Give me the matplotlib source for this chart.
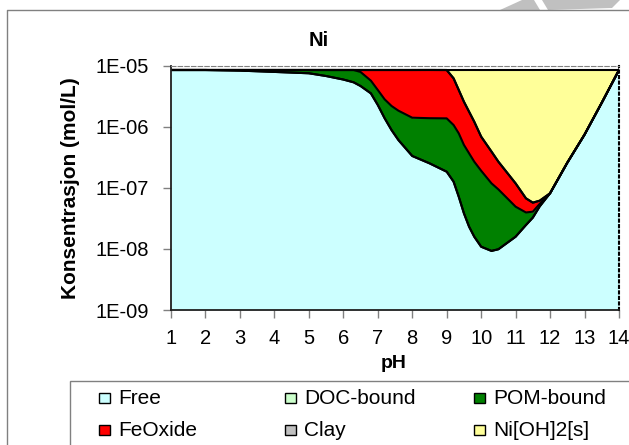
#!/usr/bin/env python3
'''
Ni speciation vs pH, stacked areas on a log axis.
'''

import matplotlib.pyplot as plt
from matplotlib.patches import Rectangle, Polygon
from matplotlib.lines import Line2D
import numpy as np

plt.rcParams['font.family'] = ['Liberation Sans', 'DejaVu Sans']

# values (mol/L)
ph = [1, 2, 3, 4, 5, 5.5, 6, 6.3, 6.5, 6.8, 7, 7.2, 7.4, 7.6, 8, 8.5, 9, 9.2,
      9.35, 9.5, 9.65, 9.8, 10, 10.3, 10.5, 11, 11.3, 11.5, 11.7, 12, 12.5, 13,
      13.5, 14]
free = [8.6e-6, 8.6e-6, 8.4e-6, 8.0e-6, 7.6e-6, 6.85e-6, 6.0e-6, 5.4e-6, 4.7e-6,
        3.56e-6, 2.3e-6, 1.39e-6, 8.9e-7, 6.1e-7, 3.35e-7, 2.54e-7, 1.85e-7,
        1.27e-7, 7.2e-8, 3.85e-8, 2.32e-8, 1.59e-8, 1.09e-8, 9.3e-9, 9.9e-9,
        1.59e-8, 2.47e-8, 3.27e-8, 5.0e-8, 8.2e-8, 2.6e-7, 7.5e-7, 2.5e-6, 8.6e-6]
doc = [0.0] * len(ph)
pom = [0, 0, 2e-7, 6e-7, 1.0e-6, 1.75e-6, 2.6e-6, 3.2e-6, 3.28e-6, 2.19e-6,
       1.75e-6, 1.45e-6, 1.32e-6, 1.24e-6, 1.085e-6, 1.14e-6, 1.2e-6, 9.5e-7,
       7.15e-7, 4.7e-7, 3.47e-7, 2.54e-7, 1.81e-7, 1.1e-7, 8.5e-8, 3.35e-8,
       1.5e-8, 8.2e-9, 5e-9, 0, 0, 0, 0, 0]
feox = [0, 0, 0, 0, 0, 0, 0, 0, 6.2e-7, 2.85e-6, 4.55e-6, 5.76e-6, 6.39e-6,
        6.75e-6, 7.18e-6, 7.21e-6, 7.21e-6, 5.2e-6, 3.26e-6, 2.09e-6, 1.41e-6,
        9.5e-7, 5.03e-7, 2.76e-7, 1.75e-7, 6.96e-8, 2.8e-8, 1.66e-8, 7e-9,
        0, 0, 0, 0, 0]
clay = [0.0] * len(ph)
nioh = [0, 0, 0, 0, 0, 0, 0, 0, 0, 0, 0, 0, 0, 0, 0, 0, 0, 2.32e-6, 4.55e-6,
        6.0e-6, 6.82e-6, 7.38e-6, 7.9e-6, 8.2e-6, 8.33e-6, 8.48e-6, 8.53e-6,
        8.54e-6, 8.54e-6, 8.52e-6, 8.34e-6, 7.85e-6, 6.1e-6, 0]

labels = ['Free', 'DOC-bound', 'POM-bound', 'FeOxide', 'Clay', 'Ni[OH]2[s]']
colors = ['#ccffff', '#ccffcc', '#008000', '#ff0000', '#c0c0c0', '#ffff99']
yticks = [1e-9, 1e-8, 1e-7, 1e-6, 1e-5]
ytlabels = ['1E-09', '1E-08', '1E-07', '1E-06', '1E-05']

W, H = 629, 445
fig = plt.figure(figsize=(W / 100, H / 100), dpi=100)

def fx(px):
    return px / W

def fy(py):
    return 1 - py / H

ax = fig.add_axes([fx(171), fy(310), fx(619) - fx(171), fy(66) - fy(310)])
ax.set_yscale('log')

stack = np.cumsum(np.array([free, doc, pom, feox, clay, nioh]), axis=0)
prev = np.full(len(ph), 1e-9)
for lev, c in zip(stack, colors):
    ax.fill_between(ph, prev, lev, color=c, lw=0)
    prev = lev
for lev in stack:
    ax.plot(ph, lev, color='k', lw=1.5, solid_joinstyle='round')

ax.set_xlim(1, 14)
ax.set_ylim(1e-9, 1e-5)
ax.set_xticks(range(1, 15))
ax.set_yticks(yticks)
ax.set_yticklabels(ytlabels)
ax.minorticks_off()
ax.tick_params(axis='both', labelsize=14.5, length=6, width=1, color='#808080')
ax.tick_params(axis='x', pad=8)
ax.tick_params(axis='y', pad=10)

ax.spines['left'].set_color('#202020')
ax.spines['bottom'].set_color('#202020')
ax.spines['left'].set_linewidth(1.3)
ax.spines['bottom'].set_linewidth(1.3)
ax.spines['top'].set_color('#808080')
ax.spines['top'].set_linestyle((0, (4, 2)))
ax.spines['right'].set_color('k')
ax.spines['right'].set_linestyle(':')
ax.spines['right'].set_linewidth(1.5)

fig.text(fx(319), fy(41), 'Ni', fontsize=14.5, fontweight='bold',
         ha='center', va='center')
fig.text(fx(394), fy(368), 'pH', fontsize=14, fontweight='bold',
         ha='center', va='baseline')
fig.text(fx(70), fy(188), 'Konsentrasjon (mol/L)', fontsize=15,
         fontweight='bold', rotation=90, ha='center', va='center')

# outer chart frame and legend box
fig.add_artist(Line2D([fx(7), fx(7), fx(640)], [fy(450), fy(10), fy(10)],
                      color='#808080', lw=1))
fig.add_artist(Rectangle((fx(70), fy(460)), fx(640) - fx(70), fy(381) - fy(460),
                         transform=fig.transFigure, fill=False,
                         edgecolor='#808080', lw=1))

# legend entries, three columns and two rows
col_x = [99, 285, 474]
row_y = [398, 430]
for i, (lab, c) in enumerate(zip(labels, colors)):
    x0 = col_x[i % 3]
    y0 = row_y[i // 3]
    fig.add_artist(Rectangle((fx(x0), fy(y0 + 5)), fx(11), 10 / H,
                             transform=fig.transFigure, facecolor=c,
                             edgecolor='k', lw=1))
    fig.text(fx(x0 + 19), fy(y0), lab, fontsize=15, ha='left', va='center')

# grey shape at the top edge of the page
fig.add_artist(Polygon([[fx(500), fy(10)], [fx(522), fy(0)], [fx(534), fy(0)],
                        [fx(540), fy(10)]], closed=True,
                       transform=fig.transFigure, color='#c0c0c0', lw=0))
fig.add_artist(Polygon([[fx(542), fy(0)], [fx(620), fy(0)], [fx(612), fy(8)],
                        [fx(548), fy(10)]], closed=True,
                       transform=fig.transFigure, color='#c0c0c0', lw=0))

fig.savefig('out.png', dpi=100)
